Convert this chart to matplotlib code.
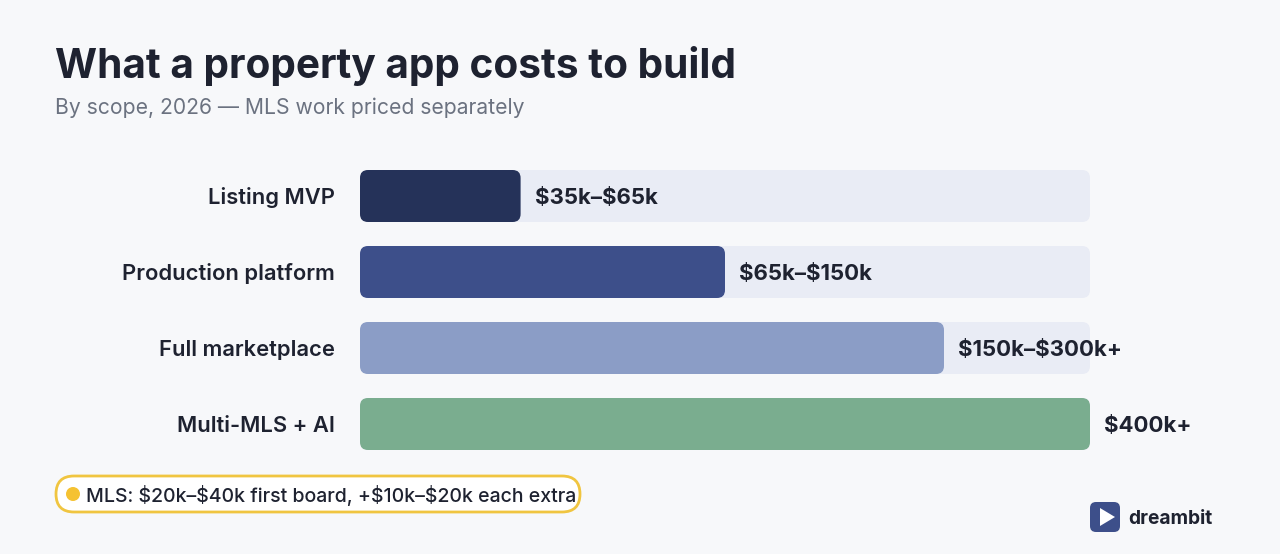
import matplotlib
matplotlib.use("Agg")
import matplotlib.pyplot as plt
from matplotlib.patches import FancyBboxPatch, Circle, Polygon

# ---- data ----
categories = ["Listing MVP", "Production platform", "Full marketplace", "Multi-MLS + AI"]
bar_share = [22, 50, 80, 100]          # bar length as % of track
value_labels = ["$35k–$65k", "$65k–$150k", "$150k–$300k+", "$400k+"]
bar_colors = ["#253259", "#3d4f8a", "#8b9dc6", "#7aad8f"]
title = "What a property app costs to build"
subtitle = "By scope, 2026 — MLS work priced separately"
note = "MLS: $20k–$40k first board, +$10k–$20k each extra"
brand = "dreambit"

BG = "#f7f8fa"
TRACK = "#e9ecf5"
DARK = "#1e2230"
W, H = 1280, 554

plt.rcParams["font.family"] = ["Inter", "DejaVu Sans"]
plt.rcParams["text.parse_math"] = False

fig = plt.figure(figsize=(W / 100, H / 100), dpi=100)
fig.patch.set_facecolor(BG)

def fx(px):
    return px / W

def fy(py):
    return 1 - py / H

fig.text(fx(55), fy(78), title, fontsize=29.2, fontweight="bold", color=DARK, va="baseline")
fig.text(fx(55), fy(114), subtitle, fontsize=15.2, color="#6b7280", va="baseline")

# ---- bar axes ----
left_px, right_px, top_px, bot_px = 360, 1090, 158, 462
ax = fig.add_axes([fx(left_px), fy(bot_px), (right_px - left_px) / W, (bot_px - top_px) / H])
ax.set_xlim(0, 100)
ax.set_ylim(len(categories) - 0.5, -0.5)
ax.axis("off")

px_per_x = (right_px - left_px) / 100
px_per_y = (bot_px - top_px) / len(categories)
rad_px = 8
rx = rad_px / px_per_x
aspect = (rad_px / px_per_y) / rx
bh = 52 / px_per_y
dy = 2 / px_per_y

ypos = list(range(len(categories)))
tracks = ax.barh(ypos, [100] * len(categories), height=bh)
bars = ax.barh(ypos, bar_share, height=bh)

def roundify(rects, colors):
    for r, c in zip(rects, colors):
        x, y, w, h = r.get_x(), r.get_y(), r.get_width(), r.get_height()
        r.remove()
        p = FancyBboxPatch((x, y), w, h, boxstyle=f"round,pad=0,rounding_size={rx}",
                           mutation_aspect=aspect, facecolor=c, edgecolor="none", zorder=2)
        ax.add_patch(p)

roundify(tracks, [TRACK] * len(categories))
roundify(bars, bar_colors)

for i, (cat, v, lab) in enumerate(zip(categories, bar_share, value_labels)):
    ax.text(-25 / px_per_x, i + dy, cat, ha="right", va="center", fontsize=15.8,
            fontweight="semibold", color=DARK, clip_on=False)
    ax.text(v + 14 / px_per_x, i + dy, lab, ha="left", va="center", fontsize=16,
            fontweight="bold", color=DARK, clip_on=False, zorder=3)

# ---- overlay axes in pixel coordinates for the note pill and logo ----
ov = fig.add_axes([0, 0, 1, 1])
ov.set_xlim(0, W)
ov.set_ylim(H, 0)
ov.axis("off")
ov.set_zorder(-1)
ov.patch.set_alpha(0)

pill = FancyBboxPatch((56, 476), 524, 36, boxstyle="round,pad=0,rounding_size=18",
                      facecolor="white", edgecolor="#f0c540", linewidth=2)
ov.add_patch(pill)
ov.add_patch(Circle((73, 494), 7, facecolor="#f5c232", edgecolor="none"))
ov.text(86, 496, note, ha="left", va="center", fontsize=14.05, fontweight="medium", color=DARK)

logo = FancyBboxPatch((1090, 502), 30, 30, boxstyle="round,pad=0,rounding_size=6",
                      facecolor="#3d4f8a", edgecolor="none")
ov.add_patch(logo)
ov.add_patch(Polygon([(1100, 508), (1100, 526), (1115, 517)], closed=True,
                     facecolor="white", edgecolor="none"))
ov.text(1128, 519, brand, ha="left", va="center", fontsize=13.8, fontweight="bold", color=DARK)

fig.savefig("out.png", dpi=100, facecolor=BG)
